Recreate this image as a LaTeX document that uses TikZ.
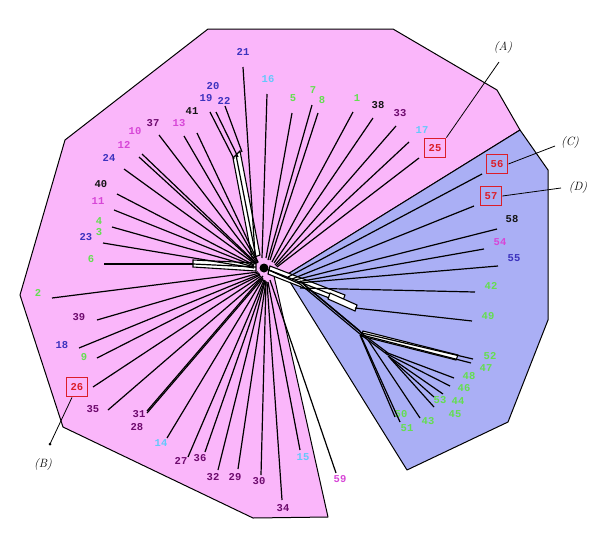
\documentclass[tikz,border=0pt]{standalone}
\usepackage{fontspec}
\newfontfamily\lblfont{Liberation Mono}
\definecolor{pinkfill}{RGB}{250,182,250}
\definecolor{bluefill}{RGB}{170,175,245}
\definecolor{lgrn}{RGB}{100,222,80}
\definecolor{lcyn}{RGB}{100,200,250}
\definecolor{lmag}{RGB}{215,70,215}
\definecolor{lblu}{RGB}{60,50,190}
\definecolor{lpur}{RGB}{110,10,110}
\definecolor{lblk}{RGB}{20,20,20}
\definecolor{lred}{RGB}{220,30,40}
\begin{document}
\begin{tikzpicture}[x=1pt,y=-1pt,
  region/.style={draw=black,line width=1pt,line join=round},
  edge/.style={draw=black,line width=1.2pt},
  band/.style={draw=black,fill=white,line width=1.1pt},
  lbl/.style={font=\lblfont\bfseries\fontsize{10.5}{11}\selectfont,inner sep=0pt},
  boxlbl/.style={lbl,draw=lred,text=lred,line width=1.8pt,inner sep=2.5pt,minimum width=21pt,minimum height=19pt},
  ann/.style={font=\itshape\fontsize{12}{12}\selectfont,inner sep=0pt},
  annline/.style={draw=black,line width=0.8pt}]
\useasboundingbox (0,0) rectangle (600,536);
% regions
\draw[region,fill=pinkfill] (208,29) -- (393,29) -- (497,90) -- (520,130) -- (283,277) -- (274,276) -- (328,517) -- (253,518) -- (63,427) -- (20,295) -- (65,140) -- cycle;
\draw[region,fill=bluefill] (520,130) -- (548,170) -- (548,320) -- (508,422) -- (407,470) -- (290,282) -- (283,277) -- cycle;
% bands (splits)
\draw[band] (233,158) -- (240,151) -- (260,255) -- (252,258) -- cycle;
\draw[edge] (236,155) -- (256,257);
\draw[band] (193,260) -- (256,263) -- (256,271) -- (193,267) -- cycle;
\draw[edge] (193,264) -- (256,267);
\draw[band] (270,266) -- (345,295) -- (342,303) -- (268,274) -- cycle;
\draw[edge] (269,270) -- (343,299);
\draw[band] (330,293) -- (357,305) -- (355,311) -- (328,299) -- cycle;
\draw[band] (363,331) -- (458,355) -- (456,360) -- (361,336) -- cycle;
% internal hubs and trunks
\coordinate (c0) at (264,268);
\coordinate (b1) at (300,284);
\coordinate (b2) at (360,334);
\coordinate (b3) at (388,355);
\draw[edge] (c0) -- (b1);
\draw[edge] (b1) -- (b2);
\draw[edge] ([yshift=3pt]b1) -- ([yshift=3pt]b2);
\draw[edge] ([xshift=3pt]b1) -- ([xshift=3pt]b2);
\draw[edge] (b2) -- (b3);
\draw[edge] ([yshift=2pt]b2) -- ([yshift=2pt]b3);
% leaves: name / label x,y / end x,y / colour / hub x,y
\foreach \n/\lx/\ly/\ex/\ey/\c/\hx/\hy in {
 21/243/52/243/67/lblu/255/255,
 16/268/79/267/94/lcyn/262/258,
 5/293/98/292/113/lgrn/266/258,
 7/313/90/312/105/lgrn/268/260,
 8/322/100/318/113/lgrn/270/260,
 1/357/98/353/112/lgrn/272/262,
 38/378/105/373/118/lblk/274/263,
 33/400/113/396/126/lpur/275/265,
 17/422/130/409/142/lcyn/276/266,
 20/213/86/216/112/lblu/238/157,
 19/206/98/210/112/lblu/234/159,
 22/224/101/225/106/lblu/242/152,
 41/192/111/197/133/lblk/258/262,
 13/179/123/184/136/lmag/258/263,
 37/153/123/159/135/lpur/257/263,
 10/135/131/142/154/lmag/256/263,
 12/124/145/139/157/lmag/256/264,
 24/109/158/124/169/lblu/255/264,
 40/101/184/117/194/lblk/254/265,
 11/98/201/114/210/lmag/254/266,
 4/99/221/112/227/lgrn/254/267,
 23/86/237/103/243/lblu/254/268,
 6/91/259/104/264/lgrn/193/264,
 2/38/293/52/298/lgrn/258/272,
 39/79/317/97/320/lpur/259/273,
 18/62/345/79/348/lblu/260/274,
 9/84/357/97/358/lgrn/260/275,
 35/93/409/108/410/lpur/262/277,
 31/139/414/147/413/lpur/263/278,
 14/161/443/167/438/lcyn/263/279,
 27/181/461/188/457/lpur/264/280,
 36/200/458/205/452/lpur/265/280,
 32/213/477/218/470/lpur/265/281,
 29/235/477/238/469/lpur/266/281,
 30/259/481/261/475/lpur/266/282,
 34/283/508/282/500/lpur/267/282,
 15/303/457/300/450/lcyn/268/282,
 59/340/479/336/473/lmag/270/280,
 58/512/219/497/229/lblk/295/280,
 54/500/242/484/249/lmag/297/282,
 55/514/258/498/266/lblu/298/283,
 42/491/286/475/292/lgrn/300/288,
 49/488/316/472/321/lgrn/355/308,
 52/490/356/473/359/lgrn/362/333,
 47/486/368/471/363/lgrn/362/335,
 48/469/376/454/378/lgrn/385/352,
 46/464/388/450/386/lgrn/387/354,
 44/458/401/443/394/lgrn/388/356,
 53/440/400/434/397/lgrn/389/357,
 45/455/414/434/407/lgrn/390/358,
 43/428/421/420/418/lgrn/368/340,
 50/401/414/395/417/lgrn/360/335,
 51/407/428/400/422/lgrn/361/336}{
  \coordinate (e\n) at (\ex,\ey);
  \coordinate (h\n) at (\hx,\hy);
  \node[lbl,text=\c] (n\n) at (\lx,\ly) {\n};
  \draw[edge] (h\n) -- (e\n);
}
\node[lbl,text=lgrn] (n3) at (99,232) {3};
\node[lbl,text=lpur] (n28) at (137,427) {28};
\draw[edge] ([yshift=2pt]h31) -- ([yshift=2pt]e31);
% boxed leaves
\node[boxlbl] (n25) at (435,148) {25};
\coordinate (e25) at (419,158); \coordinate (h25) at (277,267);
\draw[edge] (h25) -- (e25);
\node[boxlbl] (n26) at (77,387) {26};
\coordinate (e26) at (93,387); \coordinate (h26) at (261,276);
\draw[edge] (h26) -- (e26);
\node[boxlbl] (n56) at (497,164) {56};
\coordinate (e56) at (482,174); \coordinate (h56) at (288,277);
\draw[edge] (h56) -- (e56);
\node[boxlbl] (n57) at (491,196) {57};
\coordinate (e57) at (474,206); \coordinate (h57) at (292,279);
\draw[edge] (h57) -- (e57);
\fill (c0) circle (4.5pt);
% annotations
\node[ann] (A) at (503,48) {(A)};
\coordinate (aA) at (499,62);
\draw[annline] (n25.north east) -- (aA);
\node[ann] (C) at (570,143) {(C)};
\coordinate (aC) at (555,146);
\draw[annline] (n56.east) -- (aC);
\node[ann] (D) at (578,188) {(D)};
\coordinate (aD) at (561,188);
\draw[annline] (n57.east) -- (aD);
\node[ann] (B) at (43,464) {(B)};
\coordinate (aB) at (50,444);
\draw[annline] ([xshift=-5pt]n26.south) -- (aB);
\fill (aB) circle (1.5pt);
\end{tikzpicture}
\end{document}
